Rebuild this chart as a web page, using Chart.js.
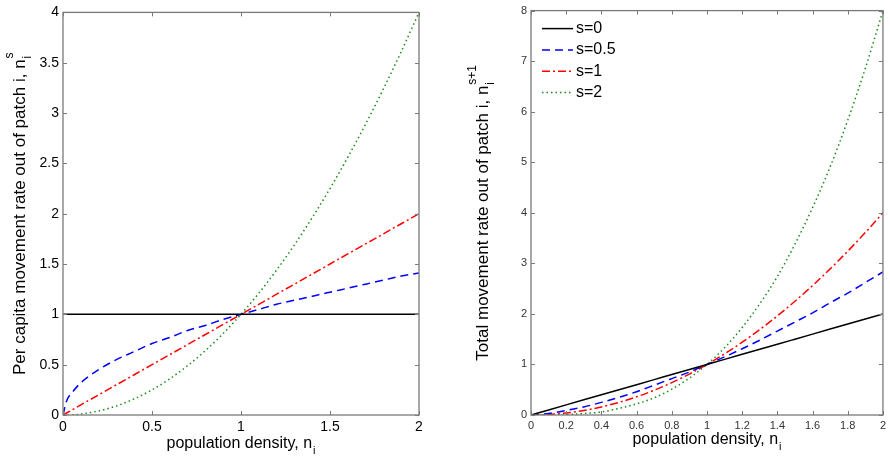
<!DOCTYPE html>
<html>
<head>
<meta charset="utf-8">
<script src="https://cdn.jsdelivr.net/npm/chart.js@4.4.1/dist/chart.umd.min.js"></script>
<style>
  html, body { margin: 0; padding: 0; background: #fff; }
  .box { position: absolute; top: 0; width: 445px; height: 461px; }
  #leftBox { left: 0; }
  #rightBox { left: 445px; }
</style>
</head>
<body>
<div class="box" id="leftBox"><canvas id="left"></canvas></div>
<div class="box" id="rightBox"><canvas id="right"></canvas></div>
<script>
var FONT = "'Liberation Sans', Arial, sans-serif";

// population density samples
var density = [0, 0.02, 0.05, 0.1, 0.2, 0.3, 0.4, 0.5, 0.6, 0.7, 0.8, 0.9, 1.0,
               1.1, 1.2, 1.3, 1.4, 1.5, 1.6, 1.7, 1.8, 1.9, 2.0];

// per capita rate, n^s
var perCapitaS0  = [1, 1, 1, 1, 1, 1, 1, 1, 1, 1, 1, 1, 1, 1, 1, 1, 1, 1, 1, 1, 1, 1, 1];
var perCapitaS05 = [0, 0.14, 0.22, 0.32, 0.45, 0.55, 0.63, 0.71, 0.77, 0.84, 0.89, 0.95, 1,
                    1.05, 1.1, 1.14, 1.18, 1.22, 1.26, 1.3, 1.34, 1.38, 1.41];
var perCapitaS1  = [0, 0.02, 0.05, 0.1, 0.2, 0.3, 0.4, 0.5, 0.6, 0.7, 0.8, 0.9, 1,
                    1.1, 1.2, 1.3, 1.4, 1.5, 1.6, 1.7, 1.8, 1.9, 2];
var perCapitaS2  = [0, 0, 0, 0.01, 0.04, 0.09, 0.16, 0.25, 0.36, 0.49, 0.64, 0.81, 1,
                    1.21, 1.44, 1.69, 1.96, 2.25, 2.56, 2.89, 3.24, 3.61, 4];

// total rate, n^(s+1)
var totalS0  = [0, 0.02, 0.05, 0.1, 0.2, 0.3, 0.4, 0.5, 0.6, 0.7, 0.8, 0.9, 1,
                1.1, 1.2, 1.3, 1.4, 1.5, 1.6, 1.7, 1.8, 1.9, 2];
var totalS05 = [0, 0, 0.01, 0.03, 0.09, 0.16, 0.25, 0.35, 0.46, 0.59, 0.72, 0.85, 1,
                1.15, 1.31, 1.48, 1.66, 1.84, 2.02, 2.22, 2.41, 2.62, 2.83];
var totalS1  = [0, 0, 0, 0.01, 0.04, 0.09, 0.16, 0.25, 0.36, 0.49, 0.64, 0.81, 1,
                1.21, 1.44, 1.69, 1.96, 2.25, 2.56, 2.89, 3.24, 3.61, 4];
var totalS2  = [0, 0, 0, 0, 0.01, 0.03, 0.06, 0.13, 0.22, 0.34, 0.51, 0.73, 1,
                1.33, 1.73, 2.2, 2.74, 3.38, 4.1, 4.91, 5.83, 6.86, 8];

var legendLabels = ['s=0', 's=0.5', 's=1', 's=2'];

// tick values
var leftXTicks  = [0, 0.5, 1, 1.5, 2];
var leftYTicks  = [0, 0.5, 1, 1.5, 2, 2.5, 3, 3.5, 4];
var rightXTicks = [0, 0.2, 0.4, 0.6, 0.8, 1, 1.2, 1.4, 1.6, 1.8, 2];
var rightYTicks = [0, 1, 2, 3, 4, 5, 6, 7, 8];

var lineStyles = [
  { color: '#000000', dash: [] },
  { color: '#0000ff', dash: [8, 5] },
  { color: '#ff0000', dash: [8, 3, 2, 3] },
  { color: '#1a8a1a', dash: [1.5, 3] }
];

function pairs(ys) {
  return density.map(function (x, i) { return { x: x, y: ys[i] }; });
}

function makeDatasets(series) {
  return series.map(function (ys, i) {
    return {
      label: legendLabels[i],
      data: pairs(ys),
      borderColor: lineStyles[i].color,
      borderDash: lineStyles[i].dash,
      borderWidth: 1.5,
      pointRadius: 0,
      cubicInterpolationMode: 'monotone',
      fill: false
    };
  });
}

// title text with a subscript and optional superscript after it
function richText(ctx, x, y, angle, base, sub, sup, size) {
  var small = Math.round(size * 0.68);
  ctx.save();
  ctx.translate(x, y);
  ctx.rotate(angle);
  ctx.fillStyle = '#000';
  ctx.textAlign = 'left';
  ctx.textBaseline = 'middle';
  ctx.font = size + 'px ' + FONT;
  var w1 = ctx.measureText(base).width;
  ctx.font = small + 'px ' + FONT;
  var w2 = Math.max(sub ? ctx.measureText(sub).width : 0, sup ? ctx.measureText(sup).width : 0);
  var x0 = -(w1 + w2 + 1) / 2;
  ctx.font = size + 'px ' + FONT;
  ctx.fillText(base, x0, 0);
  ctx.font = small + 'px ' + FONT;
  if (sub) ctx.fillText(sub, x0 + w1 + 1, size * 0.45);
  if (sup) ctx.fillText(sup, x0 + w1 + 1, -size * 0.6);
  ctx.restore();
}

// box around the plot with inward ticks, titles and legend
var decor = {
  id: 'decor',
  afterDraw: function (chart, args, opts) {
    var ctx = chart.ctx, a = chart.chartArea;
    var xs = chart.scales.x, ys = chart.scales.y;
    ctx.save();
    ctx.strokeStyle = '#7a7a7a';
    ctx.lineWidth = 1.3;
    ctx.setLineDash([]);
    ctx.strokeRect(a.left, a.top, a.right - a.left, a.bottom - a.top);
    ctx.lineWidth = 1;
    ctx.beginPath();
    opts.xTicks.forEach(function (v) {
      var px = Math.round(xs.getPixelForValue(v)) + 0.5;
      ctx.moveTo(px, a.bottom); ctx.lineTo(px, a.bottom - 4);
      ctx.moveTo(px, a.top); ctx.lineTo(px, a.top + 4);
    });
    opts.yTicks.forEach(function (v) {
      var py = Math.round(ys.getPixelForValue(v)) + 0.5;
      ctx.moveTo(a.left, py); ctx.lineTo(a.left + 4, py);
      ctx.moveTo(a.right, py); ctx.lineTo(a.right - 4, py);
    });
    ctx.stroke();
    ctx.restore();

    var cx = (a.left + a.right) / 2, cy = (a.top + a.bottom) / 2;
    richText(ctx, cx, opts.xTitleY, 0, 'population density, n', 'i', null, 16);
    richText(ctx, opts.yTitleX, cy, -Math.PI / 2, opts.yTitle, 'i', opts.yTitleSup, 17);

    if (opts.legend) {
      ctx.save();
      ctx.font = '16px ' + FONT;
      ctx.textBaseline = 'middle';
      ctx.fillStyle = '#000';
      chart.data.datasets.forEach(function (ds, i) {
        var y = a.top + 18 + i * 21.3;
        ctx.strokeStyle = ds.borderColor;
        ctx.lineWidth = 1.5;
        ctx.setLineDash(ds.borderDash);
        ctx.beginPath();
        ctx.moveTo(a.left + 11, y);
        ctx.lineTo(a.left + 42, y);
        ctx.stroke();
        ctx.setLineDash([]);
        ctx.fillText(ds.label, a.left + 45, y);
      });
      ctx.restore();
    }
  }
};

function axis(min, max, ticks, size, color, fit, fmt) {
  return {
    type: 'linear',
    min: min,
    max: max,
    grid: { display: false, drawTicks: false },
    border: { display: false },
    afterBuildTicks: function (s) { s.ticks = ticks.map(function (v) { return { value: v }; }); },
    afterFit: fit,
    ticks: {
      padding: 4,
      color: color,
      font: { family: FONT, size: size },
      autoSkip: false,
      maxRotation: 0,
      callback: fmt
    }
  };
}

function fmt(v) { return String(Math.round(v * 10) / 10); }

function buildChart(id, series, xTicks, yTicks, yMax, tickSize, tickColor, padding, extra) {
  return new Chart(document.getElementById(id), {
    type: 'line',
    data: { datasets: makeDatasets(series) },
    options: {
      responsive: true,
      maintainAspectRatio: false,
      animation: false,
      layout: { padding: padding },
      scales: {
        x: axis(0, 2, xTicks, tickSize, tickColor, function (s) { s.height = 26; }, fmt),
        y: axis(0, yMax, yTicks, tickSize, tickColor, function (s) { s.width = 30; }, fmt)
      },
      plugins: {
        legend: { display: false },
        tooltip: { enabled: false },
        decor: Object.assign({ xTicks: xTicks, yTicks: yTicks }, extra)
      }
    },
    plugins: [decor]
  });
}

buildChart('left', [perCapitaS0, perCapitaS05, perCapitaS1, perCapitaS2],
  leftXTicks, leftYTicks, 4, 14, '#000',
  { left: 33, right: 26, top: 10, bottom: 20 },
  { xTitleY: 444, yTitleX: 20, yTitle: 'Per capita movement rate out of patch i, n', yTitleSup: 's', legend: false });

buildChart('right', [totalS0, totalS05, totalS1, totalS2],
  rightXTicks, rightYTicks, 8, 11, '#333',
  { left: 56, right: 3, top: 9, bottom: 20 },
  { xTitleY: 440, yTitleX: 38, yTitle: 'Total movement rate out of patch i, n', yTitleSup: 's+1', legend: true });
</script>
</body>
</html>
